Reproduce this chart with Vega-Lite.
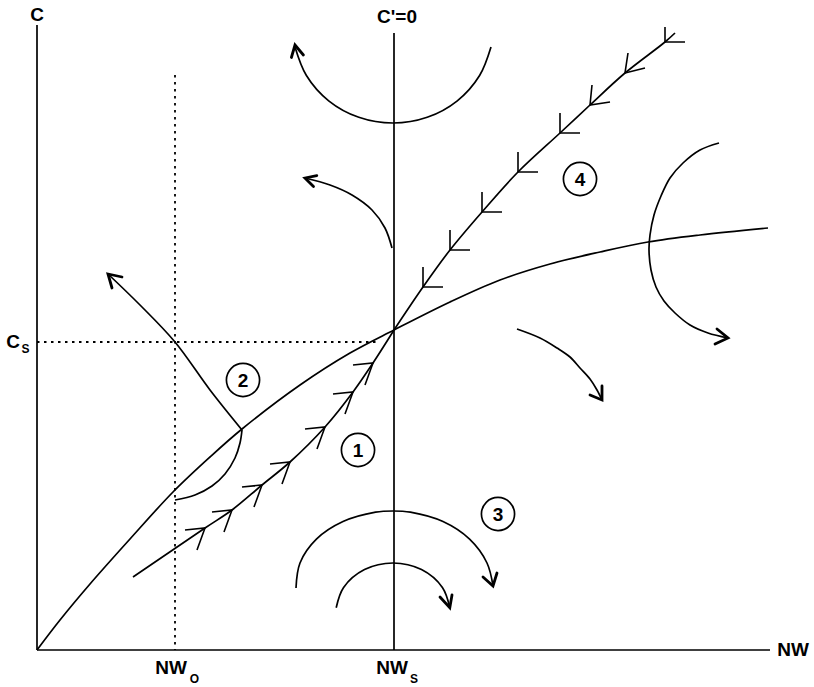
{
  "$schema": "https://vega.github.io/schema/vega-lite/v6.json",
  "width": 814,
  "height": 687,
  "padding": 0,
  "autosize": {"type": "fit", "contains": "padding"},
  "background": "white",
  "config": {"view": {"stroke": null}},
  "datasets": {
    "paths": [
      {"id": "axisY", "k": "s", "o": 0, "x": 0, "y": 625},
      {"id": "axisY", "k": "s", "o": 1, "x": 0, "y": 0},
      {"id": "axisX", "k": "s", "o": 0, "x": 0, "y": 0},
      {"id": "axisX", "k": "s", "o": 1, "x": 733, "y": 0},
      {"id": "cprime", "k": "s", "o": 0, "x": 357, "y": 617},
      {"id": "cprime", "k": "s", "o": 1, "x": 357, "y": 0},
      {"id": "dotH", "k": "d", "o": 0, "x": 0, "y": 308},
      {"id": "dotH", "k": "d", "o": 1, "x": 343, "y": 308},
      {"id": "dotV", "k": "d", "o": 0, "x": 138, "y": 575},
      {"id": "dotV", "k": "d", "o": 1, "x": 138, "y": 0},
      {"id": "curve", "k": "s", "o": 0, "x": 0, "y": 0},
      {"id": "curve", "k": "s", "o": 1, "x": 23, "y": 30},
      {"id": "curve", "k": "s", "o": 2, "x": 53, "y": 66},
      {"id": "curve", "k": "s", "o": 3, "x": 93, "y": 111},
      {"id": "curve", "k": "s", "o": 4, "x": 136, "y": 158},
      {"id": "curve", "k": "s", "o": 5, "x": 173, "y": 193},
      {"id": "curve", "k": "s", "o": 6, "x": 205, "y": 221},
      {"id": "curve", "k": "s", "o": 7, "x": 263, "y": 265},
      {"id": "curve", "k": "s", "o": 8, "x": 313, "y": 297},
      {"id": "curve", "k": "s", "o": 9, "x": 357, "y": 320},
      {"id": "curve", "k": "s", "o": 10, "x": 413, "y": 348},
      {"id": "curve", "k": "s", "o": 11, "x": 463, "y": 370},
      {"id": "curve", "k": "s", "o": 12, "x": 513, "y": 386},
      {"id": "curve", "k": "s", "o": 13, "x": 563, "y": 398},
      {"id": "curve", "k": "s", "o": 14, "x": 611, "y": 408},
      {"id": "curve", "k": "s", "o": 15, "x": 663, "y": 415},
      {"id": "curve", "k": "s", "o": 16, "x": 731, "y": 422},
      {"id": "arm1", "k": "s", "o": 0, "x": 96, "y": 73},
      {"id": "arm1", "k": "s", "o": 1, "x": 168, "y": 122},
      {"id": "arm1", "k": "s", "o": 2, "x": 195, "y": 140},
      {"id": "arm1", "k": "s", "o": 3, "x": 225, "y": 165},
      {"id": "arm1", "k": "s", "o": 4, "x": 253, "y": 188},
      {"id": "arm1", "k": "s", "o": 5, "x": 288, "y": 223},
      {"id": "arm1", "k": "s", "o": 6, "x": 316, "y": 258},
      {"id": "arm1", "k": "s", "o": 7, "x": 336, "y": 287},
      {"id": "arm1", "k": "s", "o": 8, "x": 357, "y": 320},
      {"id": "arm4", "k": "s", "o": 0, "x": 357, "y": 320},
      {"id": "arm4", "k": "s", "o": 1, "x": 386, "y": 363},
      {"id": "arm4", "k": "s", "o": 2, "x": 413, "y": 400},
      {"id": "arm4", "k": "s", "o": 3, "x": 445, "y": 438},
      {"id": "arm4", "k": "s", "o": 4, "x": 481, "y": 478},
      {"id": "arm4", "k": "s", "o": 5, "x": 523, "y": 517},
      {"id": "arm4", "k": "s", "o": 6, "x": 553, "y": 545},
      {"id": "arm4", "k": "s", "o": 7, "x": 588, "y": 577},
      {"id": "arm4", "k": "s", "o": 8, "x": 628, "y": 608},
      {"id": "arm4", "k": "s", "o": 9, "x": 638, "y": 617},
      {"id": "arm2a", "k": "s", "o": 0, "x": 138, "y": 150},
      {"id": "arm2a", "k": "s", "o": 1, "x": 158, "y": 155},
      {"id": "arm2a", "k": "s", "o": 2, "x": 175, "y": 164},
      {"id": "arm2a", "k": "s", "o": 3, "x": 188, "y": 176},
      {"id": "arm2a", "k": "s", "o": 4, "x": 198, "y": 192},
      {"id": "arm2a", "k": "s", "o": 5, "x": 203, "y": 207},
      {"id": "arm2a", "k": "s", "o": 6, "x": 205, "y": 220},
      {"id": "arm2b", "k": "s", "o": 0, "x": 205, "y": 220},
      {"id": "arm2b", "k": "s", "o": 1, "x": 173, "y": 260},
      {"id": "arm2b", "k": "s", "o": 2, "x": 138, "y": 308},
      {"id": "arm2b", "k": "s", "o": 3, "x": 103, "y": 345},
      {"id": "arm2b", "k": "s", "o": 4, "x": 71, "y": 376},
      {"id": "uarc", "k": "s", "o": 0, "x": 454, "y": 603},
      {"id": "uarc", "k": "s", "o": 1, "x": 442.6, "y": 574.5},
      {"id": "uarc", "k": "s", "o": 2, "x": 420.3, "y": 549.2},
      {"id": "uarc", "k": "s", "o": 3, "x": 390.2, "y": 532.7},
      {"id": "uarc", "k": "s", "o": 4, "x": 356, "y": 527},
      {"id": "uarc", "k": "s", "o": 5, "x": 321.8, "y": 532.7},
      {"id": "uarc", "k": "s", "o": 6, "x": 291.7, "y": 549.2},
      {"id": "uarc", "k": "s", "o": 7, "x": 269.4, "y": 574.5},
      {"id": "uarc", "k": "s", "o": 8, "x": 258, "y": 603},
      {"id": "small", "k": "s", "o": 0, "x": 355, "y": 402},
      {"id": "small", "k": "s", "o": 1, "x": 348, "y": 422},
      {"id": "small", "k": "s", "o": 2, "x": 335, "y": 440},
      {"id": "small", "k": "s", "o": 3, "x": 315, "y": 455},
      {"id": "small", "k": "s", "o": 4, "x": 293, "y": 465},
      {"id": "small", "k": "s", "o": 5, "x": 268, "y": 472},
      {"id": "rarc", "k": "s", "o": 0, "x": 682, "y": 507},
      {"id": "rarc", "k": "s", "o": 1, "x": 663, "y": 500},
      {"id": "rarc", "k": "s", "o": 2, "x": 646, "y": 487},
      {"id": "rarc", "k": "s", "o": 3, "x": 633, "y": 472},
      {"id": "rarc", "k": "s", "o": 4, "x": 624, "y": 454},
      {"id": "rarc", "k": "s", "o": 5, "x": 617, "y": 435},
      {"id": "rarc", "k": "s", "o": 6, "x": 613, "y": 415},
      {"id": "rarc", "k": "s", "o": 7, "x": 612, "y": 400},
      {"id": "rarc", "k": "s", "o": 8, "x": 614, "y": 380},
      {"id": "rarc", "k": "s", "o": 9, "x": 619, "y": 363},
      {"id": "rarc", "k": "s", "o": 10, "x": 627, "y": 349},
      {"id": "rarc", "k": "s", "o": 11, "x": 638, "y": 337},
      {"id": "rarc", "k": "s", "o": 12, "x": 653, "y": 325},
      {"id": "rarc", "k": "s", "o": 13, "x": 671, "y": 317},
      {"id": "rarc", "k": "s", "o": 14, "x": 691, "y": 312},
      {"id": "marc", "k": "s", "o": 0, "x": 480, "y": 321},
      {"id": "marc", "k": "s", "o": 1, "x": 503, "y": 312},
      {"id": "marc", "k": "s", "o": 2, "x": 520, "y": 302},
      {"id": "marc", "k": "s", "o": 3, "x": 533, "y": 293},
      {"id": "marc", "k": "s", "o": 4, "x": 543, "y": 282},
      {"id": "marc", "k": "s", "o": 5, "x": 553, "y": 271},
      {"id": "marc", "k": "s", "o": 6, "x": 560, "y": 260},
      {"id": "marc", "k": "s", "o": 7, "x": 565, "y": 250},
      {"id": "barc", "k": "s", "o": 0, "x": 259, "y": 62},
      {"id": "barc", "k": "s", "o": 1, "x": 263, "y": 87},
      {"id": "barc", "k": "s", "o": 2, "x": 279.4, "y": 110.8},
      {"id": "barc", "k": "s", "o": 3, "x": 306, "y": 128.4},
      {"id": "barc", "k": "s", "o": 4, "x": 338.6, "y": 137.8},
      {"id": "barc", "k": "s", "o": 5, "x": 356, "y": 139},
      {"id": "barc", "k": "s", "o": 6, "x": 373.4, "y": 137.8},
      {"id": "barc", "k": "s", "o": 7, "x": 406, "y": 128.4},
      {"id": "barc", "k": "s", "o": 8, "x": 432.6, "y": 110.8},
      {"id": "barc", "k": "s", "o": 9, "x": 450, "y": 87},
      {"id": "barc", "k": "s", "o": 10, "x": 456, "y": 64},
      {"id": "sarc", "k": "s", "o": 0, "x": 299.2, "y": 42.3},
      {"id": "sarc", "k": "s", "o": 1, "x": 306.6, "y": 62.5},
      {"id": "sarc", "k": "s", "o": 2, "x": 327.5, "y": 80.4},
      {"id": "sarc", "k": "s", "o": 3, "x": 356, "y": 87},
      {"id": "sarc", "k": "s", "o": 4, "x": 384.5, "y": 80.4},
      {"id": "sarc", "k": "s", "o": 5, "x": 405.4, "y": 62.5},
      {"id": "sarc", "k": "s", "o": 6, "x": 412.8, "y": 42.3},
      {"id": "h1", "k": "h", "o": 0, "x": 148, "y": 120},
      {"id": "h1", "k": "h", "o": 1, "x": 168, "y": 122},
      {"id": "h1", "k": "h", "o": 2, "x": 160, "y": 100},
      {"id": "h2", "k": "h", "o": 0, "x": 175, "y": 138},
      {"id": "h2", "k": "h", "o": 1, "x": 195, "y": 140},
      {"id": "h2", "k": "h", "o": 2, "x": 187, "y": 118},
      {"id": "h3", "k": "h", "o": 0, "x": 205, "y": 163},
      {"id": "h3", "k": "h", "o": 1, "x": 225, "y": 165},
      {"id": "h3", "k": "h", "o": 2, "x": 217, "y": 143},
      {"id": "h4", "k": "h", "o": 0, "x": 233, "y": 186},
      {"id": "h4", "k": "h", "o": 1, "x": 253, "y": 188},
      {"id": "h4", "k": "h", "o": 2, "x": 245, "y": 166},
      {"id": "h5", "k": "h", "o": 0, "x": 268, "y": 221},
      {"id": "h5", "k": "h", "o": 1, "x": 288, "y": 223},
      {"id": "h5", "k": "h", "o": 2, "x": 280, "y": 201},
      {"id": "h6", "k": "h", "o": 0, "x": 296, "y": 256},
      {"id": "h6", "k": "h", "o": 1, "x": 316, "y": 258},
      {"id": "h6", "k": "h", "o": 2, "x": 308, "y": 236},
      {"id": "h7", "k": "h", "o": 0, "x": 316, "y": 285},
      {"id": "h7", "k": "h", "o": 1, "x": 336, "y": 287},
      {"id": "h7", "k": "h", "o": 2, "x": 328, "y": 265},
      {"id": "f1", "k": "h", "o": 0, "x": 386, "y": 383},
      {"id": "f1", "k": "h", "o": 1, "x": 386, "y": 363},
      {"id": "f1", "k": "h", "o": 2, "x": 406, "y": 363},
      {"id": "f2", "k": "h", "o": 0, "x": 413, "y": 420},
      {"id": "f2", "k": "h", "o": 1, "x": 413, "y": 400},
      {"id": "f2", "k": "h", "o": 2, "x": 433, "y": 400},
      {"id": "f3", "k": "h", "o": 0, "x": 445, "y": 458},
      {"id": "f3", "k": "h", "o": 1, "x": 445, "y": 438},
      {"id": "f3", "k": "h", "o": 2, "x": 465, "y": 438},
      {"id": "f4", "k": "h", "o": 0, "x": 481, "y": 498},
      {"id": "f4", "k": "h", "o": 1, "x": 481, "y": 478},
      {"id": "f4", "k": "h", "o": 2, "x": 501, "y": 478},
      {"id": "f5", "k": "h", "o": 0, "x": 523, "y": 537},
      {"id": "f5", "k": "h", "o": 1, "x": 523, "y": 517},
      {"id": "f5", "k": "h", "o": 2, "x": 543, "y": 517},
      {"id": "f6", "k": "h", "o": 0, "x": 555, "y": 565},
      {"id": "f6", "k": "h", "o": 1, "x": 553, "y": 545},
      {"id": "f6", "k": "h", "o": 2, "x": 573, "y": 548},
      {"id": "f7", "k": "h", "o": 0, "x": 591, "y": 597},
      {"id": "f7", "k": "h", "o": 1, "x": 588, "y": 577},
      {"id": "f7", "k": "h", "o": 2, "x": 608, "y": 582},
      {"id": "f8", "k": "h", "o": 0, "x": 628, "y": 623},
      {"id": "f8", "k": "h", "o": 1, "x": 628, "y": 608},
      {"id": "f8", "k": "h", "o": 2, "x": 648, "y": 608},
      {"id": "b1", "k": "b", "o": 0, "x": 85, "y": 373},
      {"id": "b1", "k": "b", "o": 1, "x": 71, "y": 376},
      {"id": "b1", "k": "b", "o": 2, "x": 75, "y": 362},
      {"id": "b2", "k": "b", "o": 0, "x": 254.4, "y": 592.5},
      {"id": "b2", "k": "b", "o": 1, "x": 258, "y": 605},
      {"id": "b2", "k": "b", "o": 2, "x": 266.4, "y": 595},
      {"id": "b3", "k": "b", "o": 0, "x": 276.5, "y": 463.6},
      {"id": "b3", "k": "b", "o": 1, "x": 268, "y": 472},
      {"id": "b3", "k": "b", "o": 2, "x": 279.8, "y": 474.4},
      {"id": "b4", "k": "b", "o": 0, "x": 680, "y": 321},
      {"id": "b4", "k": "b", "o": 1, "x": 691, "y": 312},
      {"id": "b4", "k": "b", "o": 2, "x": 678, "y": 306},
      {"id": "b5", "k": "b", "o": 0, "x": 565, "y": 264},
      {"id": "b5", "k": "b", "o": 1, "x": 565, "y": 250},
      {"id": "b5", "k": "b", "o": 2, "x": 553, "y": 255},
      {"id": "b6", "k": "b", "o": 0, "x": 446, "y": 73},
      {"id": "b6", "k": "b", "o": 1, "x": 456, "y": 64},
      {"id": "b6", "k": "b", "o": 2, "x": 460, "y": 77},
      {"id": "b7", "k": "b", "o": 0, "x": 403, "y": 53},
      {"id": "b7", "k": "b", "o": 1, "x": 412.8, "y": 42.3},
      {"id": "b7", "k": "b", "o": 2, "x": 415, "y": 55}
    ],
    "labels": [
      {"t": "C", "x": 0, "y": 635},
      {"t": "C'=0", "x": 360, "y": 633},
      {"t": "NW", "x": 756, "y": 0},
      {"t": "C", "x": -24, "y": 308},
      {"t": "NW", "x": 134, "y": -18},
      {"t": "NW", "x": 355, "y": -18}
    ],
    "subs": [
      {"t": "S", "x": -11.5, "y": 301},
      {"t": "O", "x": 157.5, "y": -29},
      {"t": "S", "x": 377, "y": -29}
    ],
    "nums": [
      {"t": "1", "x": 321, "y": 200},
      {"t": "2", "x": 206, "y": 270},
      {"t": "3", "x": 461, "y": 136},
      {"t": "4", "x": 543, "y": 471}
    ]
  },
  "encoding": {
    "x": {"field": "x", "type": "quantitative", "scale": {"domain": [-37, 777], "nice": false, "zero": false}, "axis": null},
    "y": {"field": "y", "type": "quantitative", "scale": {"domain": [-37, 650], "nice": false, "zero": false}, "axis": null}
  },
  "layer": [
    {
      "data": {"name": "paths"},
      "transform": [{"filter": "datum.k === 's'"}],
      "mark": {"type": "line", "color": "black", "strokeWidth": 1.7, "strokeJoin": "round", "interpolate": "catmull-rom"},
      "encoding": {"detail": {"field": "id"}, "order": {"field": "o", "type": "quantitative"}}
    },
    {
      "data": {"name": "paths"},
      "transform": [{"filter": "datum.k === 'd'"}],
      "mark": {"type": "line", "color": "black", "strokeWidth": 1.8, "strokeDash": [2.5, 4.5]},
      "encoding": {"detail": {"field": "id"}, "order": {"field": "o", "type": "quantitative"}}
    },
    {
      "data": {"name": "paths"},
      "transform": [{"filter": "datum.k === 'h'"}],
      "mark": {"type": "line", "color": "black", "strokeWidth": 1.6, "strokeJoin": "miter"},
      "encoding": {"detail": {"field": "id"}, "order": {"field": "o", "type": "quantitative"}}
    },
    {
      "data": {"name": "paths"},
      "transform": [{"filter": "datum.k === 'b'"}],
      "mark": {"type": "line", "color": "black", "strokeWidth": 2.8, "strokeJoin": "miter", "strokeCap": "round"},
      "encoding": {"detail": {"field": "id"}, "order": {"field": "o", "type": "quantitative"}}
    },
    {
      "data": {"name": "nums"},
      "mark": {"type": "point", "shape": "circle", "size": 1100, "filled": false, "color": "black", "strokeWidth": 1.7, "opacity": 1}
    },
    {
      "data": {"name": "nums"},
      "mark": {"type": "text", "font": "Liberation Sans", "fontWeight": "bold", "fontSize": 19, "baseline": "middle", "align": "center", "color": "black", "dy": 1},
      "encoding": {"text": {"field": "t"}}
    },
    {
      "data": {"name": "labels"},
      "mark": {"type": "text", "font": "Liberation Sans", "fontWeight": "bold", "fontSize": 19, "baseline": "middle", "align": "center", "color": "black"},
      "encoding": {"text": {"field": "t"}}
    },
    {
      "data": {"name": "subs"},
      "mark": {"type": "text", "font": "Liberation Sans", "fontWeight": "bold", "fontSize": 12, "baseline": "middle", "align": "center", "color": "black"},
      "encoding": {"text": {"field": "t"}}
    }
  ]
}
